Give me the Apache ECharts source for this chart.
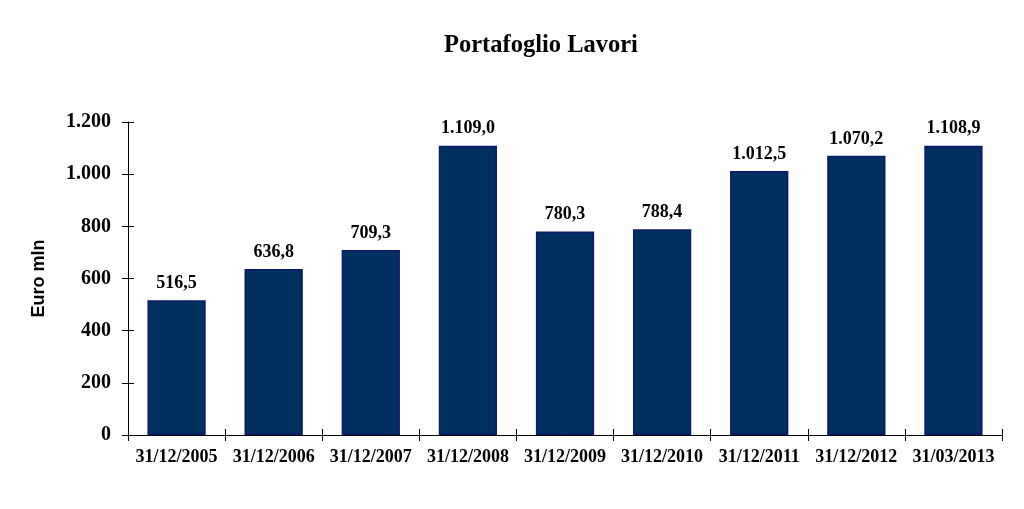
<!DOCTYPE html>
<html><head><meta charset="utf-8">
<script src="https://cdn.jsdelivr.net/npm/echarts@6/dist/echarts.min.js"></script>
<style>html,body{margin:0;padding:0;background:#fff}#c{width:1024px;height:509px}</style>
</head><body><div id="c"></div>
<script>
var categories = ['31/12/2005','31/12/2006','31/12/2007','31/12/2008','31/12/2009','31/12/2010','31/12/2011','31/12/2012','31/03/2013'];
var values = [516.5, 636.8, 709.3, 1109.0, 780.3, 788.4, 1012.5, 1070.2, 1108.9];
var yTicks = [0, 200, 400, 600, 800, 1000, 1200];

function fmtInt(v){ return String(Math.round(v)).replace(/\B(?=(\d{3})+(?!\d))/g, '.'); }
function fmtDec(v){ var p = v.toFixed(1).split('.'); return p[0].replace(/\B(?=(\d{3})+(?!\d))/g, '.') + ',' + p[1]; }

var serif = '"Liberation Serif", "Times New Roman", serif';
var chart = echarts.init(document.getElementById('c'));
var grid = {left:128, right:22, top:122, bottom:74, containLabel:false};
chart.setOption({
  animation:false,
  title:{text:'Portafoglio Lavori', left:439, top:28, textStyle:{fontFamily:serif, fontWeight:'bold', fontSize:24.5, color:'#000'}},
  grid:[grid, grid],
  xAxis:[
    {type:'category', data:categories, gridIndex:0,
     axisLine:{lineStyle:{color:'#000', width:1}},
     axisTick:{show:true, inside:false, length:6, lineStyle:{color:'#000'}},
     axisLabel:{fontFamily:serif, fontWeight:'bold', fontSize:18, color:'#000', margin:13, interval:0}},
    {type:'category', data:categories, gridIndex:1, position:'bottom',
     axisLine:{show:false},
     axisTick:{show:true, inside:true, length:6, lineStyle:{color:'#000'}},
     axisLabel:{show:false}}
  ],
  yAxis:[
    {type:'value', min:0, max:1200, interval:200, gridIndex:0,
     name:'Euro mln', nameLocation:'middle', nameGap:80, nameRotate:90,
     nameTextStyle:{fontFamily:'"Liberation Sans", Arial, sans-serif', fontWeight:'bold', fontSize:18, color:'#000'},
     axisLine:{show:true, lineStyle:{color:'#000', width:1}},
     axisTick:{show:true, inside:false, length:6, lineStyle:{color:'#000'}},
     splitLine:{show:false},
     axisLabel:{fontFamily:serif, fontWeight:'bold', fontSize:20, color:'#000', margin:17, formatter:function(v){return fmtInt(v);}}},
    {type:'value', min:0, max:1200, interval:200, gridIndex:1, position:'left',
     axisLine:{show:false},
     axisTick:{show:true, inside:true, length:6, lineStyle:{color:'#000'}},
     splitLine:{show:false}, axisLabel:{show:false}}
  ],
  series:[{
    type:'bar', data:values, xAxisIndex:0, yAxisIndex:0, barWidth:'60%',
    itemStyle:{color:'#00305f', borderColor:'#0b1a6b', borderWidth:1.5},
    label:{show:true, position:'top', distance:8, fontFamily:serif, fontWeight:'bold', fontSize:18, color:'#000',
      formatter:function(p){return fmtDec(p.value);}}
  }]
});
</script></body></html>
